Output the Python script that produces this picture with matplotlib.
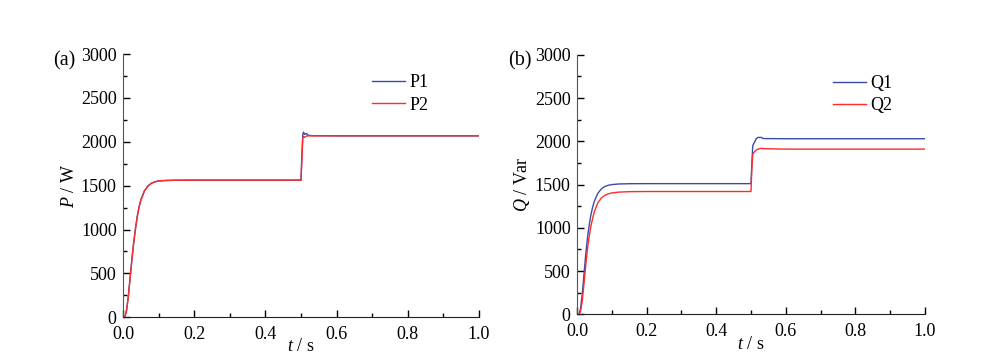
import matplotlib

matplotlib.use("Agg")

import matplotlib.pyplot as plt
from matplotlib.ticker import MultipleLocator

plt.rcParams["font.family"] = ["Liberation Serif", "DejaVu Serif"]
plt.rcParams["mathtext.fontset"] = "custom"
plt.rcParams["mathtext.it"] = "Liberation Serif:italic"
plt.rcParams["mathtext.rm"] = "Liberation Serif"

# time stamps (s) for the start-up transient and the load step
t_rise = [0.0, 0.005, 0.01, 0.015, 0.02, 0.025, 0.03, 0.035, 0.04, 0.045, 0.05,
          0.06, 0.07, 0.08, 0.09, 0.10, 0.12, 0.15, 0.2, 0.5]
t_step_p = [0.502, 0.505, 0.507, 0.51, 0.515, 0.52, 0.53, 0.6, 1.0]
t_step_q = [0.502, 0.505, 0.51, 0.515, 0.52, 0.53, 0.535, 0.6, 1.0]

# active power (W)
p1_rise = [0, 0, 80, 240, 450, 660, 850, 1010, 1150, 1255, 1335,
           1440, 1497, 1528, 1545, 1553, 1559, 1562, 1563, 1563]
p2_rise = [0, 0, 75, 235, 445, 655, 845, 1005, 1145, 1251, 1332,
           1438, 1495, 1527, 1544, 1553, 1559, 1562, 1563, 1563]
p1_step = [1800, 2080, 2110, 2085, 2095, 2075, 2070, 2068, 2068]
p2_step = [1750, 2040, 2060, 2050, 2065, 2068, 2068, 2068, 2068]

# reactive power (Var)
q1_rise = [0, 0, 60, 230, 460, 690, 880, 1030, 1150, 1240, 1310,
           1400, 1450, 1478, 1492, 1500, 1507, 1510, 1511, 1511]
q2_rise = [0, 0, 30, 150, 350, 560, 750, 900, 1020, 1110, 1190,
           1290, 1345, 1375, 1393, 1403, 1413, 1418, 1420, 1420]
q1_step = [1700, 1950, 1990, 2030, 2045, 2045, 2032, 2030, 2030]
q2_step = [1650, 1850, 1880, 1900, 1910, 1920, 1915, 1910, 1910]

BLUE = "#3a4ca8"
RED = "#ff2a2a"


def style_axis(axis, ylabel):
    for side in ("top", "right"):
        axis.spines[side].set_visible(False)
    axis.spines["left"].set_color("#555555")
    axis.spines["bottom"].set_color("#222222")
    axis.set_xlim(0, 1.0)
    axis.set_ylim(0, 3000)
    axis.xaxis.set_major_locator(MultipleLocator(0.2))
    axis.xaxis.set_minor_locator(MultipleLocator(0.1))
    axis.yaxis.set_major_locator(MultipleLocator(500))
    axis.yaxis.set_minor_locator(MultipleLocator(250))
    axis.tick_params(which="major", direction="in", length=5, width=1, labelsize=13)
    axis.tick_params(which="minor", direction="in", length=3, width=1)
    axis.tick_params(axis="x", pad=6.5)
    axis.tick_params(axis="y", pad=4.5)
    axis.set_xticks([0.0, 0.2, 0.4, 0.6, 0.8, 1.0], labels=["0.0", "0.2", "0.4", "0.6", "0.8", "1.0"])
    axis.set_xlabel(r"$t$ / s", fontsize=13, labelpad=-3.5)
    axis.set_ylabel(ylabel, fontsize=13, labelpad=2)


figure = plt.figure(figsize=(10, 3.56), dpi=100)
ax_p = figure.add_axes([0.123, 0.109, 0.356, 0.739])
ax_q = figure.add_axes([0.577, 0.117, 0.348, 0.729])

ax_p.plot(t_rise + t_step_p, p1_rise + p1_step, color=BLUE, lw=1.0, label="P1")
ax_p.plot(t_rise + t_step_p, p2_rise + p2_step, color=RED, lw=1.0, label="P2")
style_axis(ax_p, r"$P$ / W")

ax_q.plot(t_rise + t_step_q, q1_rise + q1_step, color=BLUE, lw=1.0, label="Q1")
ax_q.plot(t_rise + t_step_q, q2_rise + q2_step, color=RED, lw=1.0, label="Q2")
style_axis(ax_q, r"$Q$ / Var")

for axis, anchor_x in ((ax_p, 0.655), (ax_q, 0.69)):
    axis.legend(loc="upper left", bbox_to_anchor=(anchor_x, 0.985), frameon=False, fontsize=13,
                handlelength=1.8, handletextpad=0.25, labelspacing=0.3)

figure.text(0.053, 0.815, "(a)", fontsize=14.5)
figure.text(0.508, 0.815, "(b)", fontsize=14.5)

figure.savefig("out.png", dpi=100)
